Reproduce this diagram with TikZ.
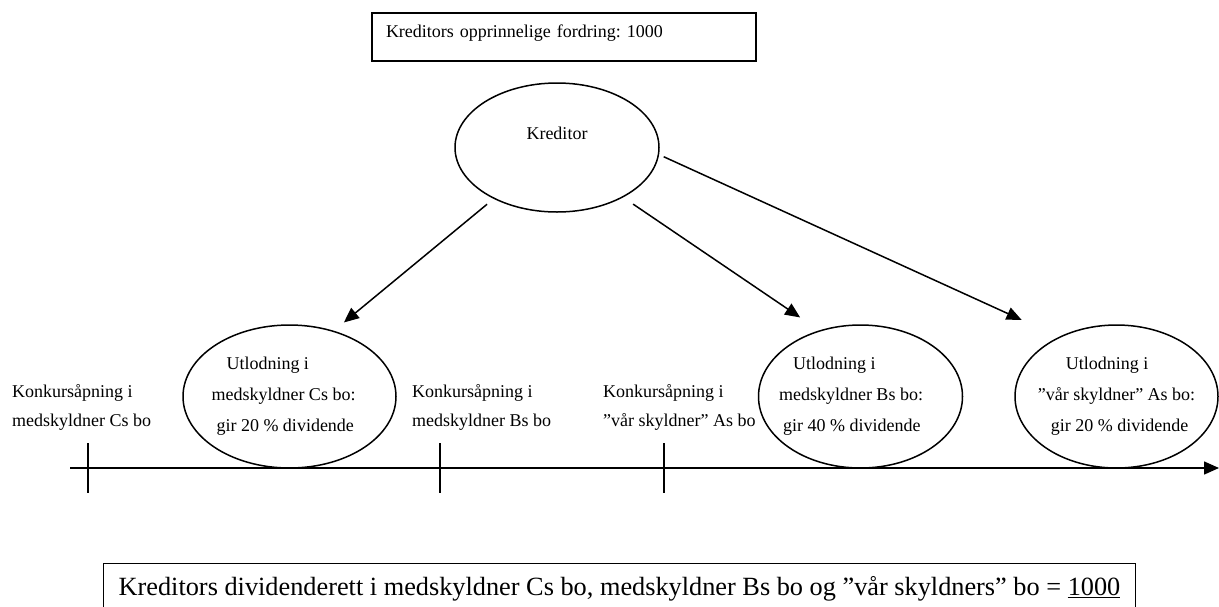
\documentclass[tikz,border=0pt]{standalone}
\usepackage{fontspec}
\setmainfont{Liberation Serif}
\usepackage{tikz}
\usetikzlibrary{arrows.meta, shapes.geometric, positioning}
\frenchspacing

\begin{document}
\begin{tikzpicture}[x=1pt, y=-1pt,
  every node/.style={inner sep=0pt},
  boble/.style={draw, ellipse, line width=1.5pt, align=left, minimum height=143pt, font=\fontsize{18}{31}\selectfont},
  frist/.style={align=left, font=\fontsize{18}{29}\selectfont},
  pil/.style={-{Triangle[length=15pt,width=13pt]}, line width=1.5pt}]

\path[use as bounding box, fill=white] (0,0) rectangle (1219,606);

\coordinate(O1) at (0,0);
\node[below right=12pt and 371pt of O1, draw, line width=2pt, text width=356pt, inner xsep=14pt, text height=12pt, text depth=12pt, minimum height=48pt, align=left, font=\fontsize{18}{22}\selectfont](fordring) {Kreditors opprinnelige fordring: 1000};

\node[draw, ellipse, line width=1.5pt, minimum width=204pt, minimum height=129pt, text depth=29pt, font=\fontsize{18}{22}\selectfont](kred) at (557,147.5) {Kreditor};

\node[boble, minimum width=213pt, inner xsep=-3pt](utC) at (289.5,396.5) {\hspace*{15pt}Utlodning i\\medskyldner Cs bo:\hspace*{12pt}\mbox{}\\\hspace*{5pt}gir 20 \% dividende};
\node[boble, minimum width=204pt, inner xsep=-10pt](utB) at (860.5,396.5) {\hspace*{14pt}Utlodning i\\medskyldner Bs bo:\hspace*{19pt}\mbox{}\\\hspace*{4pt}gir 40 \% dividende};
\node[boble, minimum width=203pt, inner xsep=-7pt](utA) at (1116.5,396.5) {\hspace*{28pt}Utlodning i\\”vår skyldner” As bo:\\\hspace*{13pt}gir 20 \% dividende};

\node[frist, below right=384pt and 12pt of O1](kC) {Konkursåpning i\\medskyldner Cs bo};
\node[frist, below right=384pt and 412pt of O1](kB) {Konkursåpning i\\medskyldner Bs bo};
\node[frist, below right=384pt and 603pt of O1](kA) {Konkursåpning i\\”vår skyldner” As bo};

\coordinate(t0) at (70,468);
\coordinate(t1) at (1219,468);
\draw[pil] (t0) -- (t1);
\foreach \x in {88,440,664}
  \draw[line width=1.5pt] (\x,443) -- (\x,493);

\draw[pil, shorten <=8.5pt, shorten >=13pt] (kred.219) -- (utC.56);
\draw[pil, shorten <=12pt, shorten >=23pt] (kred.323) -- (utB.122);
\draw[pil, shorten <=5pt, shorten >=41pt] (kred.356) -- (utA.134);

\node[below right=563pt and 103pt of O1, draw, line width=1.3pt, inner xsep=15pt, text height=32pt, text depth=40pt, font=\fontsize{26.3}{30}\selectfont](rett) {Kreditors dividenderett i medskyldner Cs bo, medskyldner Bs bo og ”vår skyldners” bo = \underline{1000}};
\end{tikzpicture}
\end{document}
